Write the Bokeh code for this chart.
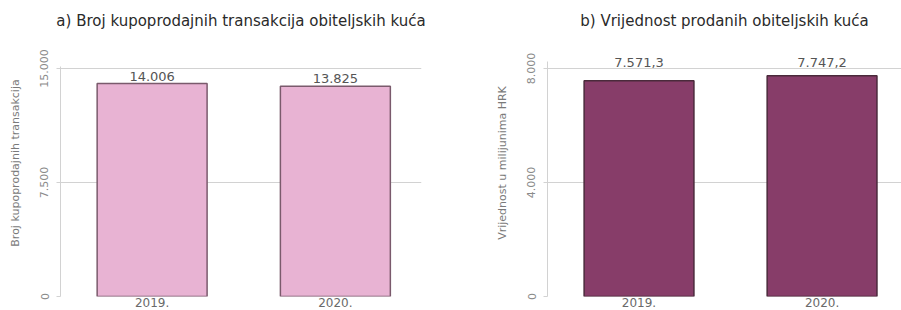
from bokeh.plotting import figure
from bokeh.layouts import row, column
from bokeh.models import Range1d, FixedTicker, ColumnDataSource, Title, LabelSet
from bokeh.core.properties import value
from bokeh.embed import file_html
from bokeh.resources import INLINE

years = ["2019.", "2020."]
transakcije = [14006, 13825]
vrijednost = [7571.3, 7747.2]
labels_a = ["14.006", "13.825"]
labels_b = ["7.571,3", "7.747,2"]
ticks_a = [0, 7500, 15000]
tick_labels_a = ["0", "7.500", "15.000"]
ticks_b = [0, 4000, 8000]
tick_labels_b = ["0", "4.000", "8.000"]

FONT = "DejaVu Sans"
GRID = "#d2d2d2"


def make_panel(title, ylabel, vals, labels, ticks, tick_labels, fill, edge,
               width, xend, yend, border_left, border_right, axis_top,
               title_offset, label_y=None, label_off=3):
    xs = [i + 0.5 for i in range(len(years))]
    p = figure(width=width, height=310, output_backend="svg", toolbar_location=None,
               x_range=Range1d(0, xend), y_range=Range1d(0, yend),
               min_border_left=border_left, min_border_right=border_right,
               min_border_top=29, min_border_bottom=14)
    p.title = None
    t = Title(text=title, align="center", text_font=FONT, offset=title_offset,
              text_font_size="15px", text_font_style="normal", text_color="#2a2a2a",
              standoff=0)
    p.add_layout(t, "above")
    p.outline_line_color = None
    p.background_fill_color = "white"
    p.border_fill_color = "white"
    src = ColumnDataSource(dict(x=xs, top=vals, lab=labels,
                                ly=[label_y] * len(vals) if label_y is not None else vals))
    p.vbar(x="x", top="top", bottom=0, width=0.6, source=src,
           fill_color=fill, line_color=edge, line_width=1.5)
    p.add_layout(LabelSet(x="x", y="ly", text="lab", source=src, text_align="center",
                          text_baseline="bottom", y_offset=label_off,
                          text_font=value(FONT),
                          text_font_size="13px", text_color="#555555"))
    # y axis
    ya = p.yaxis[0]
    ya.bounds = (0, axis_top)
    ya.ticker = FixedTicker(ticks=ticks)
    ya.major_label_overrides = {t_: l for t_, l in zip(ticks, tick_labels)}
    ya.major_label_orientation = "vertical"
    ya.major_label_text_font = FONT
    ya.major_label_text_font_size = "11px"
    ya.major_label_text_color = "#8a8a8a"
    ya.major_label_standoff = 8
    ya.axis_line_color = GRID
    ya.major_tick_line_color = GRID
    ya.major_tick_out = 4
    ya.major_tick_in = 0
    ya.minor_tick_line_color = None
    ya.axis_label = ylabel
    ya.axis_label_text_font = FONT
    ya.axis_label_text_font_size = "11px"
    ya.axis_label_text_font_style = "normal"
    ya.axis_label_text_color = "#7a7a7a"
    ya.axis_label_standoff = 16
    # x axis
    xa = p.xaxis[0]
    xa.ticker = FixedTicker(ticks=xs)
    xa.major_label_overrides = {x_: y_ for x_, y_ in zip(xs, years)}
    xa.major_label_text_font = FONT
    xa.major_label_text_font_size = "12px"
    xa.major_label_text_color = "#6a6a6a"
    xa.major_label_standoff = 1
    xa.major_tick_out = 0
    xa.major_tick_in = 0
    xa.axis_line_color = None
    xa.major_tick_line_color = None
    xa.minor_tick_line_color = None
    p.xgrid.grid_line_color = None
    p.ygrid.grid_line_color = GRID
    p.ygrid.ticker = FixedTicker(ticks=ticks)
    return p


p1 = make_panel("a) Broj kupoprodajnih transakcija obiteljskih kuća",
                "Broj kupoprodajnih transakcija", transakcije, labels_a,
                ticks_a, tick_labels_a, "#E8B3D3", "#7a5a6c",
                width=440, xend=1.97, yend=17566, border_left=60, border_right=19,
                axis_top=15100, title_offset=-6)
p2 = make_panel("b) Vrijednost prodanih obiteljskih kuća",
                "Vrijednost u milijunima HRK", vrijednost, labels_b,
                ticks_b, tick_labels_b, "#873D69", "#4a2a3b",
                width=461, xend=1.934, yend=9368, border_left=107, border_right=0,
                axis_top=8250, title_offset=0, label_y=8000, label_off=1)

layout = row(column(p1), column(p2), spacing=0)
open("out.html", "w").write(file_html(layout, INLINE))
